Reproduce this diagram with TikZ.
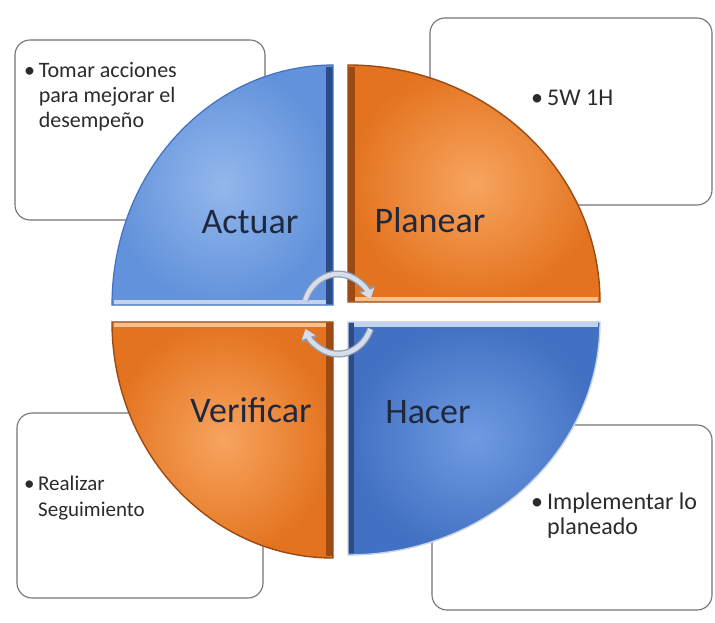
\documentclass[tikz,border=0pt]{standalone}
\usepackage{fontspec}
\setmainfont{Carlito}
\usetikzlibrary{arrows.meta}

\definecolor{blueIn}{HTML}{93B7EC}
\definecolor{blueOut}{HTML}{6292DB}
\definecolor{blueIn2}{HTML}{6F9BE2}
\definecolor{blueOut2}{HTML}{4270C2}
\definecolor{blueDark}{HTML}{2C4C86}
\definecolor{blueLight}{HTML}{C3D3EC}
\definecolor{orgIn}{HTML}{F7A45F}
\definecolor{orgOut}{HTML}{E3731F}
\definecolor{orgDark}{HTML}{9A4A12}
\definecolor{orgLight}{HTML}{F8C08C}
\definecolor{labelInk}{HTML}{1E2940}
\definecolor{noteInk}{HTML}{2B2B2B}
\definecolor{cycleFill}{HTML}{D6DEEA}
\definecolor{cycleEdge}{HTML}{8C9CB6}

\begin{document}
\begin{tikzpicture}[x=1pt,y=1pt,
  notebox/.style={draw=black!55, line width=1.1pt, rounded corners=15pt, fill=white},
  notetext/.style={anchor=north west, text=noteInk, inner sep=0pt},
  phase/.style={text=labelInk, font=\fontsize{36}{40}\selectfont, inner sep=0pt},
  cycedge/.style={draw=cycleEdge, line width=7pt,
    -{Triangle[length=11pt,width=17pt]}},
  cycarrow/.style={draw=cycleFill, line width=4.5pt,
    -{Triangle[length=9pt,width=13.5pt]}}
]
\useasboundingbox (0,0) rectangle (715,622);
\fill[white] (0,0) rectangle (715,622);

% ---- note boxes behind the wheel ----
\draw[notebox] (15,402) rectangle (265,582);
\draw[notebox] (430,417) rectangle (712,604);
\draw[notebox] (17,24) rectangle (263,209);
\draw[notebox] (432,12) rectangle (712,197);

\node[notetext] (tnA) at (24,562) {\fontsize{22}{25}\selectfont
  \begin{tabular}{@{}l@{\,}l@{}}\textbullet & Tomar acciones\\ & para mejorar el\\ & desempeño\end{tabular}};
\node[notetext] (tnP) at (531,532) {\fontsize{24}{26}\selectfont \textbullet\,5W 1H};
\node[notetext] (tnV) at (24,150) {\fontsize{21}{26}\selectfont
  \begin{tabular}{@{}l@{\,}l@{}}\textbullet & Realizar\\ & Seguimiento\end{tabular}};
\node[notetext] (tnH) at (531,130) {\fontsize{24}{25}\selectfont
  \begin{tabular}{@{}l@{\,}l@{}}\textbullet & Implementar lo\\ & planeado\end{tabular}};

% ---- quadrant: Actuar (top left) ----
\shade[inner color=blueIn, outer color=blueOut]
  (333,317) -- (112,317) arc[start angle=180, end angle=90, x radius=221, y radius=240] -- cycle;
\fill[blueDark] (326,318) rectangle (333,555);
\fill[blueLight] (114,317) rectangle (326,322);
\draw[blueOut2, line width=1.2pt]
  (333,317) -- (112,317) arc[start angle=180, end angle=90, x radius=221, y radius=240] -- cycle;

% ---- quadrant: Planear (top right) ----
\shade[inner color=orgIn, outer color=orgOut]
  (348,320) -- (348,557) arc[start angle=90, end angle=0, x radius=252, y radius=237] -- cycle;
\fill[orgDark] (348,321) rectangle (355,555);
\fill[orgLight] (355,320) rectangle (598,325);
\draw[orgDark, line width=1.4pt]
  (348,320) -- (348,557) arc[start angle=90, end angle=0, x radius=252, y radius=237] -- cycle;

% ---- quadrant: Verificar (bottom left) ----
\shade[inner color=orgIn, outer color=orgOut]
  (333,300) -- (333,64) arc[start angle=270, end angle=180, x radius=221, y radius=236] -- cycle;
\fill[orgDark] (326,66) rectangle (333,299);
\fill[orgLight] (114,295) rectangle (326,300);
\draw[orgDark, line width=1.4pt]
  (333,300) -- (333,64) arc[start angle=270, end angle=180, x radius=221, y radius=236] -- cycle;

% ---- quadrant: Hacer (bottom right) ----
\shade[inner color=blueIn2, outer color=blueOut2]
  (348,300) -- (600,300) arc[start angle=0, end angle=-90, x radius=252, y radius=233] -- cycle;
\fill[blueDark] (348,69) rectangle (354,299);
\fill[blueLight] (354,295) rectangle (598,300);
\draw[blueLight, line width=1.4pt]
  (348,300) -- (600,300) arc[start angle=0, end angle=-90, x radius=252, y radius=233] -- cycle;

% ---- phase labels ----
\node[phase] (actuar) at (250,400) {Actuar};
\node[phase] (planear) at (430,402) {Planear};
\node[phase] (verificar) at (251,212) {Verificar};
\node[phase] (hacer) at (428,210) {Hacer};

% ---- cycle arrows at the hub ----
\coordinate (hub) at (338,308);
\draw[cycedge] ([shift={(160:35 and 40)}]hub) arc[start angle=160, end angle=22, x radius=35, y radius=40];
\draw[cycarrow] ([shift={(160:35 and 40)}]hub) arc[start angle=160, end angle=22, x radius=35, y radius=40];
\draw[cycedge] ([shift={(-22:35 and 40)}]hub) arc[start angle=-22, end angle=-158, x radius=35, y radius=40];
\draw[cycarrow] ([shift={(-22:35 and 40)}]hub) arc[start angle=-22, end angle=-158, x radius=35, y radius=40];
\end{tikzpicture}
\end{document}
